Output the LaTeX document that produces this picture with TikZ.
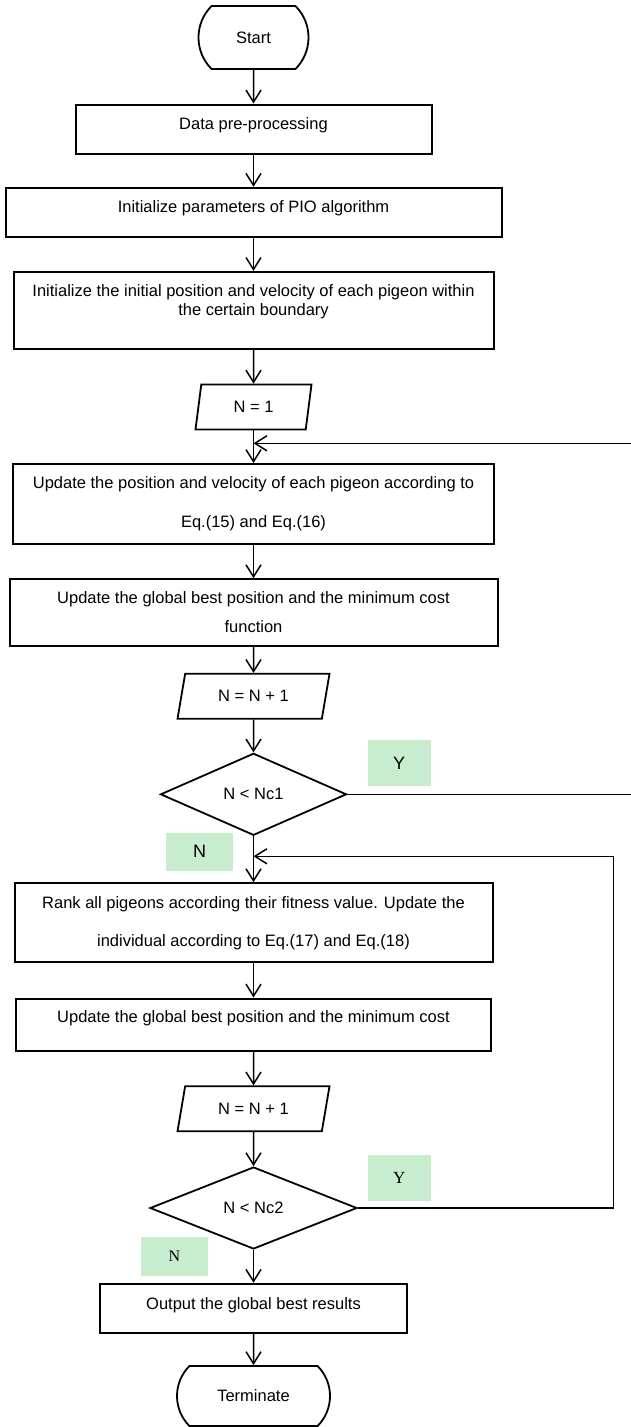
\documentclass[tikz,border=0pt]{standalone}
\usepackage{fontspec}
\setmainfont{Liberation Sans}
\newfontfamily\tagserif{Liberation Serif}
\usetikzlibrary{arrows.meta, shapes.geometric, shapes.misc, positioning}
\definecolor{tagfill}{RGB}{199,236,206}

\begin{document}
\begin{tikzpicture}[x=1pt, y=-1pt, font=\fontsize{16.5}{19}\selectfont,
    proc/.style={draw, line width=2pt, inner sep=0pt},
    io/.style={draw, line width=1.8pt, trapezium, trapezium stretches body,
        inner sep=0pt, minimum height=45pt},
    decide/.style={draw, line width=1.8pt, diamond, aspect=2.2, inner sep=0pt},
    term/.style={draw, line width=1.8pt, rounded rectangle, rounded rectangle arc length=90, inner sep=0pt},
    tag/.style={fill=tagfill, inner sep=0pt, font=\fontsize{18}{20}\selectfont},
    line/.style={line width=1.5pt, -{Straight Barb[length=12pt, width=15pt]}}]
    \useasboundingbox (0,0) rectangle (631,1427);
    % main column
    \node[term, minimum width=110pt, minimum height=63pt] (start) at (253.5,37.5) {Start};
    \node[proc, minimum width=356pt, minimum height=49pt] (prep) at (253.5,129) {};
    \node[anchor=base] (prep-txt) at (253.5,129.3) {Data pre-processing};
    \node[proc, minimum width=496pt, minimum height=49pt] (param) at (253.5,212.3) {};
    \node[anchor=base] (param-txt) at (253.5,212.7) {Initialize parameters of PIO algorithm};
    \node[proc, minimum width=480pt, minimum height=77pt] (init) at (253.5,310.4) {};
    \node[anchor=base, align=center] (init-txt) at (253.5,315.3) {Initialize the initial position and velocity of each pigeon within\\the certain boundary};
    \node[io, trapezium left angle=63, trapezium right angle=117, minimum width=116pt] (n1) at (253.5,407) {N = 1};
    \node[proc, minimum width=481pt, minimum height=80pt] (upd) at (253.5,504) {};
    \node[anchor=base, align=center] (upd-txt) at (253.5,527.7) {Update the position and velocity of each pigeon according to\\[20pt]Eq.(15) and Eq.(16)};
    \node[proc, minimum width=488pt, minimum height=67pt] (best1) at (253.5,612.7) {};
    \node[anchor=base, align=center] (best1-txt) at (253.5,632) {Update the global best position and the minimum cost\\[10pt]function};
    \node[io, trapezium left angle=56, trapezium right angle=124, minimum width=152pt] (n2) at (253.5,696.3) {N = N + 1};
    \node[decide, minimum width=186pt, minimum height=82pt] (dec1) at (253.5,794.3) {N < Nc1};
    \node[proc, minimum width=478pt, minimum height=79pt] (rank) at (253.5,922.7) {};
    \node[anchor=base, align=center] (rank-txt) at (253.5,946) {Rank all pigeons according their fitness value. Update the\\[19pt]individual according to Eq.(17) and Eq.(18)};
    \node[proc, minimum width=475pt, minimum height=52pt] (best2) at (253.5,1024.5) {};
    \node[anchor=base] (best2-txt) at (253.5,1022.7) {Update the global best position and the minimum cost};
    \node[io, trapezium left angle=56, trapezium right angle=124, minimum width=152pt] (n3) at (253.5,1108.8) {N = N + 1};
    \node[decide, minimum width=207pt, minimum height=82pt] (dec2) at (253.5,1208) {N < Nc2};
    \node[proc, minimum width=307pt, minimum height=49pt] (out) at (253.5,1308.3) {};
    \node[anchor=base] (out-txt) at (253.5,1309.3) {Output the global best results};
    \node[term, minimum width=153pt, minimum height=60pt] (stop) at (253.5,1396) {Terminate};
    % yes / no tags
    \node[tag, minimum width=63pt, minimum height=46pt] (y1) at (399.2,762.8) {Y};
    \node[tag, minimum width=67pt, minimum height=38pt] (no1) at (199.6,851.5) {N};
    \node[tag, minimum width=63pt, minimum height=46pt, font=\tagserif\fontsize{17}{19}\selectfont] (y2) at (399.2,1177.8) {Y};
    \node[tag, minimum width=67pt, minimum height=39pt, font=\tagserif\fontsize{16}{18}\selectfont] (no2) at (174.4,1256.7) {N};
    % joins of the two loops
    \coordinate (j1) at (253.5,443.3);
    \coordinate (j2) at (253.5,856.3);
    \draw[line] (start) -- (prep);
    \draw[line] (prep) -- (param);
    \draw[line] (param) -- (init);
    \draw[line] (init) -- (n1);
    \draw[line] (n1) -- (upd);
    \draw[line] (upd) -- (best1);
    \draw[line] (best1) -- (n2);
    \draw[line] (n2) -- (dec1);
    \draw[line] (dec1) -- (rank);
    \draw[line] (rank) -- (best2);
    \draw[line] (best2) -- (n3);
    \draw[line] (n3) -- (dec2);
    \draw[line] (dec2) -- (out);
    \draw[line] (out) -- (stop);
    \draw[line] (dec1.east) -- (650,794.3) |- (j1);
    \draw[line] (dec2.east) -- (613.7,1208) |- (j2);
\end{tikzpicture}
\end{document}
